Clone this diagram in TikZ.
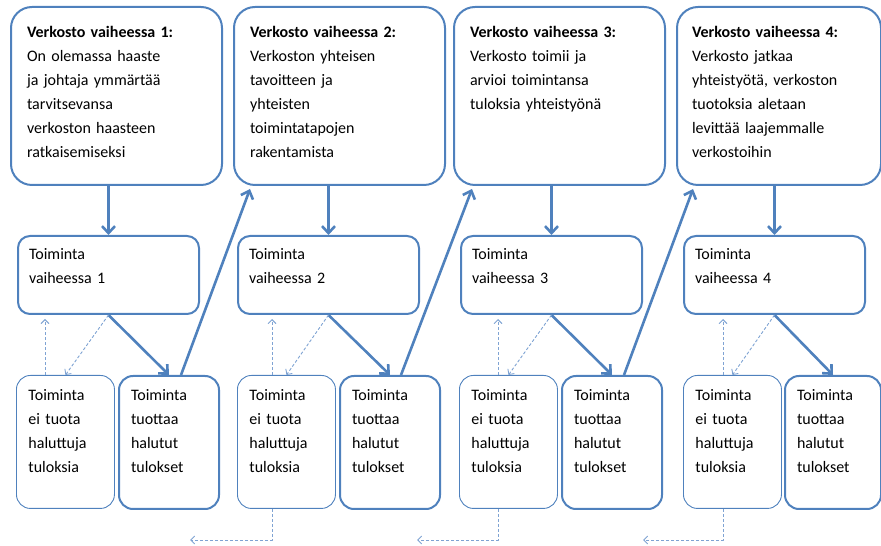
\documentclass[tikz,border=0pt]{standalone}
\usepackage{fontspec}
\setmainfont{Carlito}
\usetikzlibrary{arrows.meta}
\definecolor{boxblue}{HTML}{4F81BD}
\definecolor{hintblue}{HTML}{7FA3D3}
\begin{document}
\begin{tikzpicture}[line join=round,
  every node/.style={anchor=north west,align=left,inner ysep=0bp,font=\fontsize{16bp}{24bp}\selectfont},
  stagebox/.style={draw=boxblue,line width=2bp,rounded corners=21bp,inner xsep=16bp,text width=179bp,text height=31bp,text depth=147bp},
  actbox/.style={draw=boxblue,line width=2bp,rounded corners=12bp,inner xsep=11bp,text width=159bp,text height=24bp,text depth=54bp},
  failbox/.style={draw=boxblue,line width=0.9bp,rounded corners=14bp,inner xsep=12bp,text width=74bp,text height=25bp,text depth=108bp},
  okbox/.style={draw=boxblue,line width=2bp,rounded corners=14bp,inner xsep=12bp,text width=76bp,text height=25bp,text depth=108bp},
  arr/.style={boxblue,line width=2.6bp,-{Straight Barb[length=7bp,width=13bp]}},
  hint/.style={hintblue,line width=0.9bp,dash pattern=on 3bp off 2bp,-{Straight Barb[length=4bp,width=8bp]}},
]
\useasboundingbox (0bp,0bp) rectangle (881bp,546bp);
%%
\node (stage_1) at (10bp,540bp) [stagebox] {\textbf{Verkosto vaiheessa 1:}\\On olemassa haaste\\ja johtaja ymmärtää\\tarvitsevansa\\verkoston haasteen\\ratkaisemiseksi};
  \node (stage_2) at (233bp,540bp) [stagebox] {\textbf{Verkosto vaiheessa 2:}\\Verkoston yhteisen\\tavoitteen ja\\yhteisten\\toimintatapojen\\rakentamista};
  \node (stage_3) at (453bp,540bp) [stagebox] {\textbf{Verkosto vaiheessa 3:}\\Verkosto toimii ja\\arvioi toimintansa\\tuloksia yhteistyönä};
  \node (stage_4) at (676bp,540bp) [stagebox,inner xsep=15bp,text width=174bp] {\textbf{Verkosto vaiheessa 4:}\\Verkosto jatkaa\\yhteistyötä,~verkoston\\tuotoksia aletaan\\levittää laajemmalle\\verkostoihin};
%
\node (act_1) at (17bp,311bp) [actbox] {Toiminta\\vaiheessa 1};
  \node (act_2) at (237bp,311bp) [actbox] {Toiminta\\vaiheessa 2};
  \node (act_3) at (460bp,311bp) [actbox] {Toiminta\\vaiheessa 3};
  \node (act_4) at (683bp,311bp) [actbox] {Toiminta\\vaiheessa 4};
%
\node (fail_1) at (16bp,171bp) [failbox] {Toiminta\\ei tuota\\haluttuja\\tuloksia};
  \node (fail_2) at (237bp,171bp) [failbox] {Toiminta\\ei tuota\\haluttuja\\tuloksia};
  \node (fail_3) at (459bp,171bp) [failbox] {Toiminta\\ei tuota\\haluttuja\\tuloksia};
  \node (fail_4) at (683bp,171bp) [failbox] {Toiminta\\ei tuota\\haluttuja\\tuloksia};
  \node (ok_1) at (118bp,171bp) [okbox] {Toiminta\\tuottaa\\halutut\\tulokset};
  \node (ok_2) at (339bp,171bp) [okbox] {Toiminta\\tuottaa\\halutut\\tulokset};
  \node (ok_3) at (561bp,171bp) [okbox] {Toiminta\\tuottaa\\halutut\\tulokset};
  \node (ok_4) at (784bp,171bp) [okbox,text width=72bp] {Toiminta\\tuottaa\\halutut\\tulokset};
%
\coordinate (back_1) at (190bp,6bp);
  \coordinate (back_2) at (417bp,6bp);
  \coordinate (back_3) at (643bp,6bp);
%%
\draw [arr] (stage_1.south -| act_1.north) -- (act_1.north);
  \draw [arr] (stage_2.south -| act_2.north) -- (act_2.north);
  \draw [arr] (stage_3.south -| act_3.north) -- (act_3.north);
  \draw [arr] (stage_4.south -| act_4.north) -- (act_4.north);
  \draw [arr] (act_1.south) -- (ok_1.north);
  \draw [arr] (act_2.south) -- (ok_2.north);
  \draw [arr] (act_3.south) -- (ok_3.north);
  \draw [arr] (act_4.south) -- (ok_4.north);
  \draw [arr] ([xshift=12bp]ok_1.north) -- ([xshift=17bp,yshift=-3bp]stage_2.south west);
  \draw [arr] ([xshift=11bp]ok_2.north) -- ([xshift=19bp,yshift=-3bp]stage_3.south west);
  \draw [arr] ([xshift=12bp]ok_3.north) -- ([xshift=17bp,yshift=-3bp]stage_4.south west);
%
\draw [hint] (act_1.south) -- (fail_1.north);
  \draw [hint] (act_2.south) -- (fail_2.north);
  \draw [hint] (act_3.south) -- (fail_3.north);
  \draw [hint] (act_4.south) -- (fail_4.north);
  \draw [hint,shorten >=4bp] ([xshift=29bp]fail_1.north west) -- ([xshift=29bp]fail_1.north west |- act_1.south);
  \draw [hint,shorten >=4bp] ([xshift=35bp]fail_2.north west) -- ([xshift=35bp]fail_2.north west |- act_2.south);
  \draw [hint,shorten >=4bp] ([xshift=39bp]fail_3.north west) -- ([xshift=39bp]fail_3.north west |- act_3.south);
  \draw [hint,shorten >=4bp] ([xshift=40bp]fail_4.north west) -- ([xshift=40bp]fail_4.north west |- act_4.south);
  \draw [hint] ([xshift=35bp]fail_2.south west) |- (back_1);
  \draw [hint] ([xshift=39bp]fail_3.south west) |- (back_2);
  \draw [hint] ([xshift=40bp]fail_4.south west) |- (back_3);
%
\end{tikzpicture}
\end{document}
